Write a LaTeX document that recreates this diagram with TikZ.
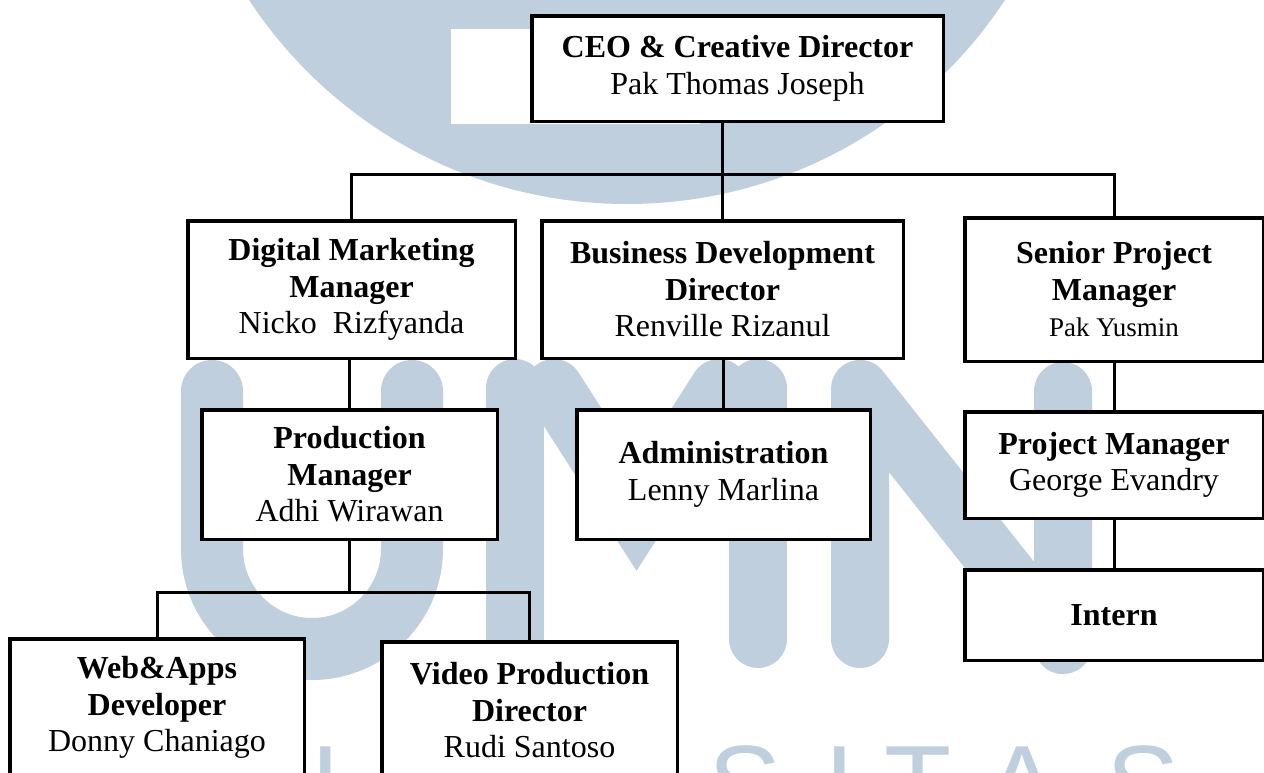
\documentclass[tikz,border=0pt]{standalone}
\usepackage{fontspec}
\setmainfont{Liberation Serif}
\newfontfamily\wmfont{Liberation Sans}
\definecolor{wm}{RGB}{191,207,222}
\begin{document}
\begin{tikzpicture}[x=1pt,y=-1pt,
  box/.style={draw=black, line width=3.5pt, fill=white, align=center, inner sep=0pt,
              font=\fontsize{32}{36.5}\selectfont},
  conn/.style={line width=3pt},
  wmstroke/.style={draw=wm, line width=58pt, line cap=round, line join=round},
  wmtext/.style={text=wm, anchor=base, inner sep=0pt, font=\wmfont\fontsize{110}{110}\selectfont}]
\fill[white] (0,0) rectangle (1264,772);
\useasboundingbox (0,0) rectangle (1264,772);
% ---- watermark ----
\begin{scope}
\clip (0,0) rectangle (1264,772);
\fill[wm] (627,-248) circle[radius=452pt];
\fill[white] (451,29) rectangle (700,124);
\draw[wmstroke, line width=62pt] (212,391) -- (212,549)
  .. controls (212,604.2) and (256.8,649) .. (312,649)
  .. controls (367.2,649) and (412,604.2) .. (412,549) -- (412,391);
\draw[wmstroke] (515,639) -- (515,388);
\draw[wmstroke, line join=miter] (554,388) -- (636.5,517) -- (719,388);
\draw[wmstroke] (758,388) -- (758,639);
\draw[wmstroke] (860,639) -- (860,389) -- (1063,645) -- (1063,391);
\node[wmtext] (w3) at (326,822) {I};
\node[wmtext] (w7) at (745,822) {S};
\node[wmtext] (w8) at (840,822) {I};
\node[wmtext] (w9) at (918,822) {T};
\node[wmtext] (w10) at (1022,822) {A};
\node[wmtext] (w11) at (1143,822) {S};
\end{scope}
% ---- boxes ----
\node[box, minimum width=411.5pt, minimum height=105.5pt] (ceo) at (737.5,68.5)
  {\textbf{CEO \& Creative Director}\\Pak Thomas Joseph};
\node[box, minimum width=327.5pt, minimum height=137.5pt] (dmm) at (351.5,289.5)
  {\textbf{Digital Marketing}\\\textbf{Manager}\\Nicko\ \ Rizfyanda};
\node[box, minimum width=361.5pt, minimum height=137.5pt] (bdd) at (722.5,289.5)
  {\textbf{Business Development}\\\textbf{Director}\\Renville Rizanul};
\node[box, minimum width=298.5pt, minimum height=143.5pt] (spm) at (1114,289.5)
  {\textbf{Senior Project}\\\textbf{Manager}\\{\fontsize{27}{30}\selectfont Pak Yusmin}};
\node[box, minimum width=295.5pt, minimum height=129.5pt] (prod) at (349.5,474.5)
  {\textbf{Production}\\\textbf{Manager}\\Adhi Wirawan};
\node[box, minimum width=293.5pt, minimum height=129.5pt] (admin) at (723.5,474.5)
  {\textbf{Administration}\\Lenny Marlina};
\node[box, minimum width=298.5pt, minimum height=106.5pt] (pm) at (1114,465)
  {\textbf{Project Manager}\\George Evandry};
\node[box, minimum width=298.5pt, minimum height=90.5pt] (intern) at (1114,615)
  {\textbf{Intern}};
\node[box, minimum width=294.5pt, minimum height=137.5pt] (web) at (157,707.5)
  {\textbf{Web\&Apps}\\\textbf{Developer}\\Donny Chaniago};
\node[box, minimum width=295.5pt, minimum height=137.5pt] (video) at (529.5,710.5)
  {\textbf{Video Production}\\\textbf{Director}\\Rudi Santoso};
% ---- connectors ----
\coordinate (bus1) at (0,174);
\coordinate (bus2) at (0,592);
\draw[conn] (ceo.south -| bdd.north) -- (bdd.north);
\draw[conn] (dmm.north) |- (spm.north |- bus1) -- (spm.north);
\draw[conn] (prod.north) -- (prod.north |- dmm.south);
\draw[conn] (admin.north) -- (admin.north |- bdd.south);
\draw[conn] (spm.south) -- (pm.north);
\draw[conn] (pm.south) -- (intern.north);
\draw[conn] (prod.south) -- (prod.south |- bus2);
\draw[conn] (web.north) |- (video.north |- bus2) -- (video.north);
\end{tikzpicture}
\end{document}
